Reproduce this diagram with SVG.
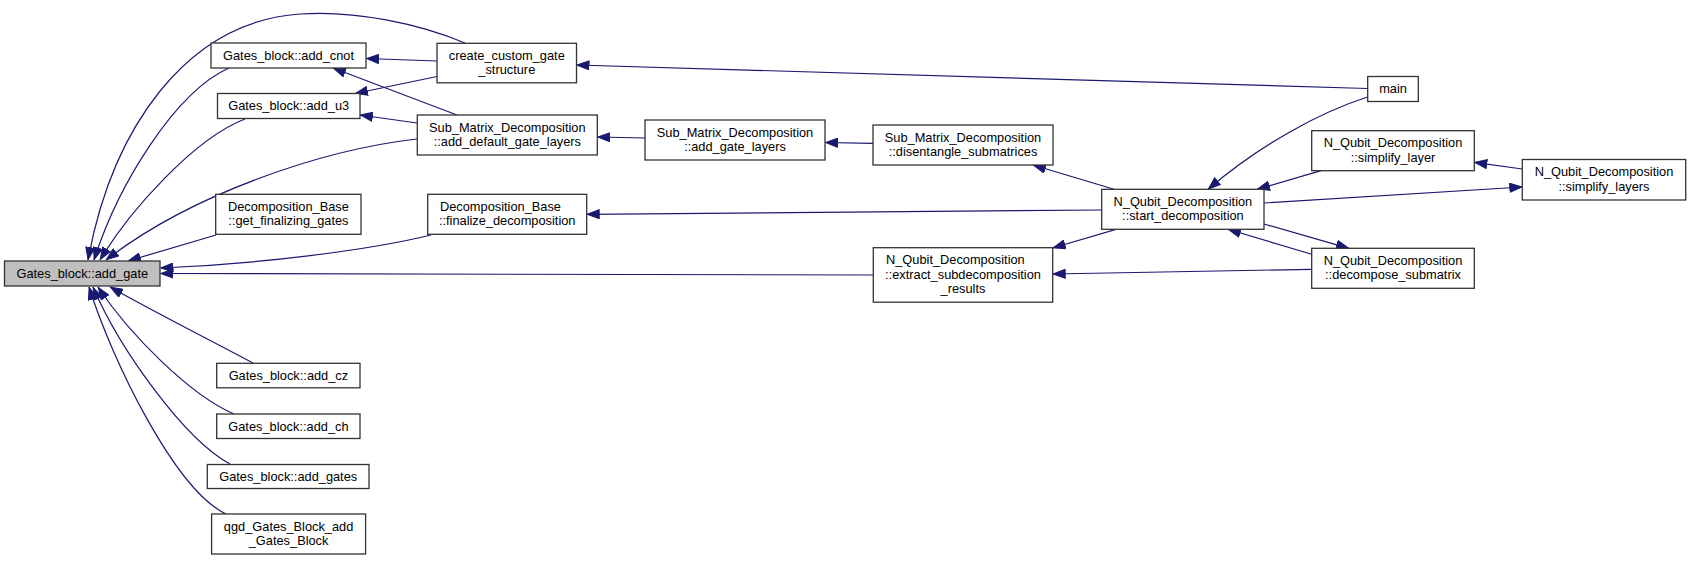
<svg xmlns="http://www.w3.org/2000/svg" width="1691" height="561" viewBox="0 0 1691 561">
<style>
.n rect{fill:#ffffff;stroke:#333333;stroke-width:1.3}
.n.hl rect{fill:#bfbfbf}
.n text{font-family:"Liberation Sans",Arial,Helvetica,sans-serif;font-size:12.8px;fill:#000000;text-anchor:middle}
.n text.l{text-anchor:start}
#edges path{fill:none;stroke:#191970;stroke-width:1.2}
</style>
<defs>
<marker id="ah" viewBox="0 0 13 10" refX="13" refY="5" markerWidth="13" markerHeight="10" markerUnits="userSpaceOnUse" orient="auto">
<path d="M0.5,0.5 L12.5,5 L0.5,9.5 z" fill="#191970" stroke="#191970" stroke-width="1"/>
</marker>
</defs>
<rect x="0" y="0" width="1691" height="561" fill="#ffffff"/>
<g id="edges">
<path marker-end="url(#ah)" d="M465,43 C420,24 355,10 300,14 C185,22 112,130 88,260"/>
<path marker-end="url(#ah)" d="M229,68 C175,92 118,185 94,260"/>
<path marker-end="url(#ah)" d="M245,119 C195,138 130,210 100,260"/>
<path marker-end="url(#ah)" d="M417,139 C320,150 190,195 106,260"/>
<path marker-end="url(#ah)" d="M216,235 L128,261"/>
<path marker-end="url(#ah)" d="M431,235 C370,250 260,264 160.5,268"/>
<path marker-end="url(#ah)" d="M873,275 L160.5,273.5"/>
<path marker-end="url(#ah)" d="M253,363 C210,340 160,315 110,287"/>
<path marker-end="url(#ah)" d="M234,414 C190,395 130,335 98,287"/>
<path marker-end="url(#ah)" d="M230,464 C185,440 120,350 93,287"/>
<path marker-end="url(#ah)" d="M226,514 C175,490 112,360 89,287"/>
<path marker-end="url(#ah)" d="M437,61 L366,58.5"/>
<path marker-end="url(#ah)" d="M437,76.5 L355,93.5"/>
<path marker-end="url(#ah)" d="M457,115 L333,68"/>
<path marker-end="url(#ah)" d="M417,123 L360,115"/>
<path marker-end="url(#ah)" d="M645,138 L597.3,137"/>
<path marker-end="url(#ah)" d="M873,143.3 L825,142.5"/>
<path marker-end="url(#ah)" d="M1114,189.3 L1033,165"/>
<path marker-end="url(#ah)" d="M1101.7,210 L586.7,214.3"/>
<path marker-end="url(#ah)" d="M1116,229.3 L1052.7,248"/>
<path marker-end="url(#ah)" d="M1367.7,88.5 L576.5,65"/>
<path marker-end="url(#ah)" d="M1367.7,97 C1320,112 1260,145 1208,189.3"/>
<path marker-end="url(#ah)" d="M1321,170.7 L1257,189.3"/>
<path marker-end="url(#ah)" d="M1264,203 L1522.3,187"/>
<path marker-end="url(#ah)" d="M1522.3,169 L1474.3,162.3"/>
<path marker-end="url(#ah)" d="M1264,224 L1349,248.3"/>
<path marker-end="url(#ah)" d="M1311.7,254.3 L1228,229.3"/>
<path marker-end="url(#ah)" d="M1311.7,269.3 L1052.7,274"/>
</g>
<g id="add_gate" class="n hl"><rect x="4.5" y="261" width="155.5" height="25"/><text x="82.3" y="277.8">Gates_block::add_gate</text></g>
<g id="add_cnot" class="n"><rect x="211" y="43" width="155" height="25"/><text x="288.5" y="59.8">Gates_block::add_cnot</text></g>
<g id="add_u3" class="n"><rect x="217.5" y="93.5" width="142.5" height="25"/><text x="288.7" y="110.3">Gates_block::add_u3</text></g>
<g id="create_custom_gate_structure" class="n"><rect x="437" y="43.3" width="139.5" height="39.5"/><text x="506.8" y="59.5">create_custom_gate</text><text x="506.8" y="74">_structure</text></g>
<g id="add_default_gate_layers" class="n"><rect x="417.3" y="115" width="180" height="40"/><text x="507.3" y="131.5">Sub_Matrix_Decomposition</text><text x="507.3" y="146">::add_default_gate_layers</text></g>
<g id="add_gate_layers" class="n"><rect x="645" y="120" width="180" height="40"/><text x="735" y="136.5">Sub_Matrix_Decomposition</text><text x="735" y="151">::add_gate_layers</text></g>
<g id="disentangle_submatrices" class="n"><rect x="873" y="125" width="180" height="40"/><text x="963" y="141.5">Sub_Matrix_Decomposition</text><text x="963" y="156">::disentangle_submatrices</text></g>
<g id="get_finalizing_gates" class="n"><rect x="215.7" y="194.3" width="145.3" height="40"/><text x="288.4" y="210.8">Decomposition_Base</text><text x="288.4" y="225.3">::get_finalizing_gates</text></g>
<g id="finalize_decomposition" class="n"><rect x="427.7" y="194.3" width="159" height="40"/><text class="l" x="440" y="210.8">Decomposition_Base</text><text x="507.2" y="225.3">::finalize_decomposition</text></g>
<g id="start_decomposition" class="n"><rect x="1101.7" y="189.3" width="162.3" height="40"/><text x="1182.9" y="205.8">N_Qubit_Decomposition</text><text x="1182.9" y="220.3">::start_decomposition</text></g>
<g id="extract_subdecomposition_results" class="n"><rect x="873.3" y="247.7" width="179.4" height="54.5"/><text class="l" x="886" y="264">N_Qubit_Decomposition</text><text x="963" y="278.5">::extract_subdecomposition</text><text x="963" y="293">_results</text></g>
<g id="main" class="n"><rect x="1367.7" y="76.5" width="50.6" height="25"/><text x="1393" y="93.3">main</text></g>
<g id="simplify_layer" class="n"><rect x="1311.7" y="130.7" width="162.6" height="40"/><text x="1393" y="147.2">N_Qubit_Decomposition</text><text x="1393" y="161.7">::simplify_layer</text></g>
<g id="simplify_layers" class="n"><rect x="1522.3" y="159.5" width="163.4" height="40.5"/><text x="1604" y="176.2">N_Qubit_Decomposition</text><text x="1604" y="190.7">::simplify_layers</text></g>
<g id="decompose_submatrix" class="n"><rect x="1311.7" y="248.3" width="162.6" height="40"/><text x="1393" y="264.8">N_Qubit_Decomposition</text><text x="1393" y="279.3">::decompose_submatrix</text></g>
<g id="add_cz" class="n"><rect x="216.7" y="363.3" width="143.3" height="24.5"/><text x="288.4" y="379.8">Gates_block::add_cz</text></g>
<g id="add_ch" class="n"><rect x="216.7" y="414" width="143.3" height="24.5"/><text x="288.4" y="430.5">Gates_block::add_ch</text></g>
<g id="add_gates" class="n"><rect x="207.3" y="464.5" width="161.7" height="24"/><text x="288.2" y="480.8">Gates_block::add_gates</text></g>
<g id="qgd_Gates_Block_add_Gates_Block" class="n"><rect x="211.6" y="514" width="154" height="40"/><text x="288.6" y="530.5">qgd_Gates_Block_add</text><text x="288.6" y="545">_Gates_Block</text></g>
</svg>
